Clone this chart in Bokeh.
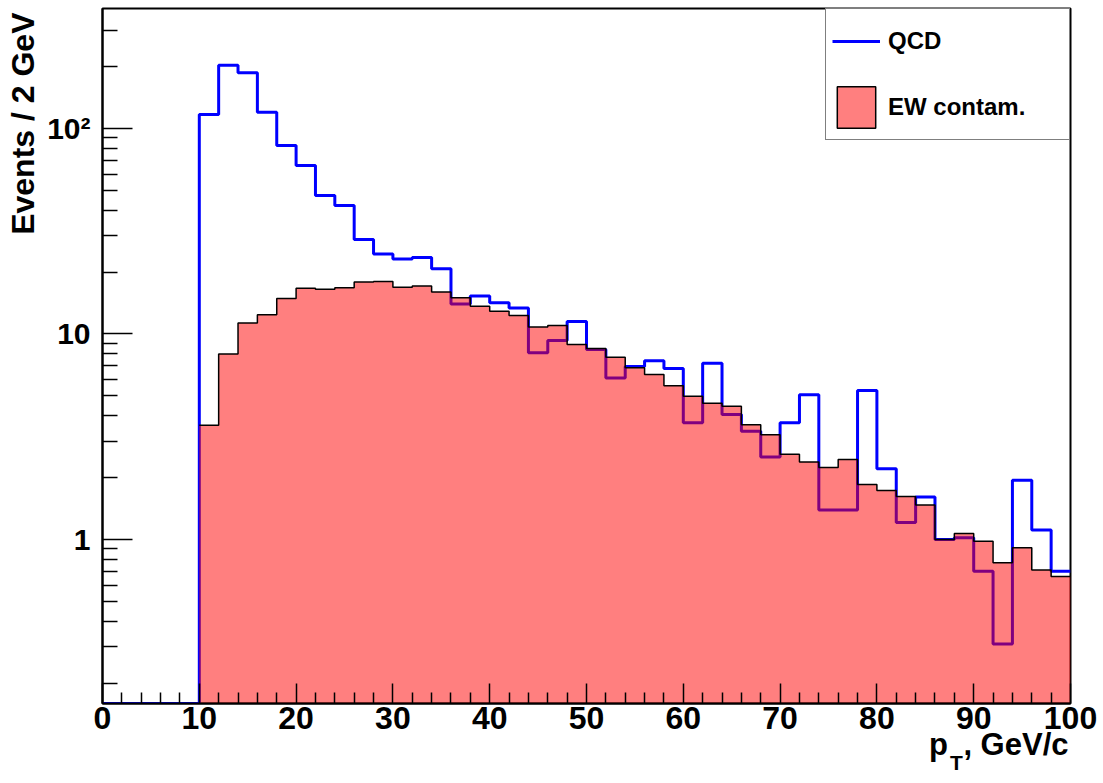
import math
from bokeh.plotting import figure
from bokeh.models import (Range1d, FixedTicker, Legend, LegendItem, ColumnDataSource,
                          Title, LinearAxis)
from bokeh.embed import file_html
from bokeh.resources import INLINE

# ---------------- data ----------------
bin_edges = list(range(0, 101, 2))  # 2 GeV bins, 0..100

qcd = [0, 0, 0, 0, 0,
       117, 203, 187, 120, 82.6, 66, 47.2, 42.2, 28.8, 24.5,
       23.2, 23.6, 20.8, 14.0, 15.3, 14.2, 13.4, 8.1, 9.3, 11.5,
       8.4, 6.1, 6.95, 7.4, 6.8, 3.7, 7.2, 4.06, 3.36, 2.52,
       3.7, 5.06, 1.39, 1.39, 5.31, 2.21, 1.21, 1.61, 1.0, 1.02,
       0.70, 0.31, 1.94, 1.11, 0.70]

ew = [0, 0, 0, 0, 0,
      3.6, 8.0, 11.3, 12.4, 14.9, 16.7, 16.5, 16.8, 17.9, 18.0,
      16.9, 17.1, 16.0, 15.0, 13.65, 12.9, 12.3, 10.8, 11.0, 8.9,
      8.5, 7.7, 6.85, 6.35, 5.6, 4.98, 4.6, 4.45, 3.62, 3.23,
      2.6, 2.38, 2.24, 2.45, 1.85, 1.73, 1.62, 1.47, 1.0, 1.07,
      0.98, 0.77, 0.91, 0.71, 0.66]

x_major_ticks = [0, 10, 20, 30, 40, 50, 60, 70, 80, 90, 100]
x_minor_ticks = [v for v in range(0, 101, 2) if v % 10 != 0]
y_major_ticks = [1, 10, 100]
y_major_labels = {1: "1", 10: "10", 100: "10\u00b2"}
y_minor_ticks = [0.2, 0.3, 0.4, 0.5, 0.6, 0.7, 0.8, 0.9,
                 2, 3, 4, 5, 6, 7, 8, 9,
                 20, 30, 40, 50, 60, 70, 80, 90, 200, 300]

series_names = ["QCD", "EW contam."]
x_title_main = "p\u2002, GeV/c"
x_title_sub = "T"
y_title = "Events / 2 GeV"

# ---------------- layout ----------------
W, H = 1103, 783
FRAME_L, FRAME_R, FRAME_T, FRAME_B = 102, 1070, 8, 703
X_MIN, X_MAX = 0, 100
Y_MIN, Y_MAX = 0.159, 384
FONT = "Liberation Sans"
NAN = float("nan")


def sx(px):
    return X_MIN + (px - FRAME_L) / (FRAME_R - FRAME_L) * (X_MAX - X_MIN)


p = figure(width=W, height=H, title=None,
           x_range=Range1d(X_MIN, X_MAX), y_range=Range1d(Y_MIN, Y_MAX),
           y_axis_type="log", output_backend="svg", toolbar_location=None,
           min_border_left=FRAME_L, min_border_right=W - FRAME_R,
           min_border_top=FRAME_T, min_border_bottom=H - FRAME_B,
           background_fill_color="white", border_fill_color="white")

p.xgrid.visible = False
p.ygrid.visible = False
p.outline_line_color = "black"
p.outline_line_width = 2

# x axis
xa = p.xaxis[0]
xa.ticker = FixedTicker(ticks=x_major_ticks, minor_ticks=x_minor_ticks)
xa.major_tick_in = 20
xa.major_tick_out = 0
xa.minor_tick_in = 11
xa.minor_tick_out = 0
xa.major_tick_line_width = 1.5
xa.minor_tick_line_width = 1.5
xa.axis_line_width = 2
xa.major_label_text_font = FONT
xa.major_label_text_font_style = "bold"
xa.major_label_text_font_size = "32px"
xa.major_label_text_color = "black"
xa.major_label_standoff = 3

# y axis
ya = p.yaxis[0]
ya.ticker = FixedTicker(ticks=y_major_ticks, minor_ticks=y_minor_ticks)
ya.major_label_overrides = y_major_labels
ya.major_tick_in = 30
ya.major_tick_out = 0
ya.minor_tick_in = 15
ya.minor_tick_out = 0
ya.major_tick_line_width = 1.5
ya.minor_tick_line_width = 1.5
ya.axis_line_width = 2
ya.major_label_text_font = FONT
ya.major_label_text_font_style = "bold"
ya.major_label_text_font_size = "30px"
ya.major_label_text_color = "black"
ya.major_label_standoff = 12

# ---------------- histograms ----------------
qcd_y = [v if v > 0 else Y_MIN for v in qcd]
qcd_src = ColumnDataSource(dict(x=bin_edges, y=qcd_y + [qcd_y[-1]]))
p.step(x="x", y="y", source=qcd_src, mode="after", line_color="#0000ff", line_width=3)

ew_top = [v if v > 0 else Y_MIN for v in ew]
ew_fill_src = ColumnDataSource(dict(x=bin_edges, y1=[Y_MIN] * len(bin_edges),
                                    y2=ew_top + [ew_top[-1]]))
p.varea_step(x="x", y1="y1", y2="y2", source=ew_fill_src, step_mode="after",
             fill_color="#ff0000", fill_alpha=0.5)

ew_step = [v if v > 0 else NAN for v in ew]
ew_line_src = ColumnDataSource(dict(x=bin_edges, y=ew_step + [ew_step[-1]]))
p.step(x="x", y="y", source=ew_line_src, mode="after", line_color="black", line_width=1.5)

# legend proxies (no visible data)
leg_line = p.line(x=[NAN], y=[NAN], line_color="#0000ff", line_width=3)
leg_box = p.quad(left=[NAN], right=[NAN], top=[NAN], bottom=[NAN], fill_color="#ff0000",
                 fill_alpha=0.5, line_color="black", line_width=1.5)

legend = Legend(items=[LegendItem(label=series_names[0], renderers=[leg_line]),
                       LegendItem(label=series_names[1], renderers=[leg_box])],
                location="top_right", margin=0, padding=6, spacing=14,
                glyph_width=48, glyph_height=52, label_standoff=8, label_width=175,
                label_text_font=FONT, label_text_font_style="bold",
                label_text_font_size="24px", label_text_color="black",
                label_text_baseline="middle",
                border_line_color="black", border_line_width=1.5,
                background_fill_color="white", background_fill_alpha=1.0)
p.add_layout(legend)

# ---------------- axis titles ----------------
p.add_layout(Title(text=y_title, align="right", vertical_align="top", offset=4, standoff=4,
                   text_font=FONT, text_font_style="bold", text_font_size="32px",
                   text_color="black"), "left")

x_title = Title(text=x_title_main, align="right", vertical_align="top", offset=2, standoff=0,
                text_font=FONT, text_font_style="bold", text_font_size="31px",
                text_color="black")
sub_standoff = -15
try:
    x_title.standoff = -10
    sub_standoff = -8
except ValueError:
    pass
p.add_layout(x_title, "below")

t_pos = sx(956)
sub_axis = LinearAxis(ticker=FixedTicker(ticks=[t_pos], minor_ticks=[]),
                      major_label_overrides={t_pos: x_title_sub},
                      major_label_standoff=sub_standoff,
                      major_label_text_font=FONT, major_label_text_font_style="bold",
                      major_label_text_font_size="21px", major_label_text_color="black",
                      axis_line_color=None, major_tick_line_color=None,
                      minor_tick_line_color=None, major_tick_in=0, major_tick_out=0,
                      minor_tick_in=0, minor_tick_out=0)
p.add_layout(sub_axis, "below")

open("out.html", "w").write(file_html(p, INLINE))
